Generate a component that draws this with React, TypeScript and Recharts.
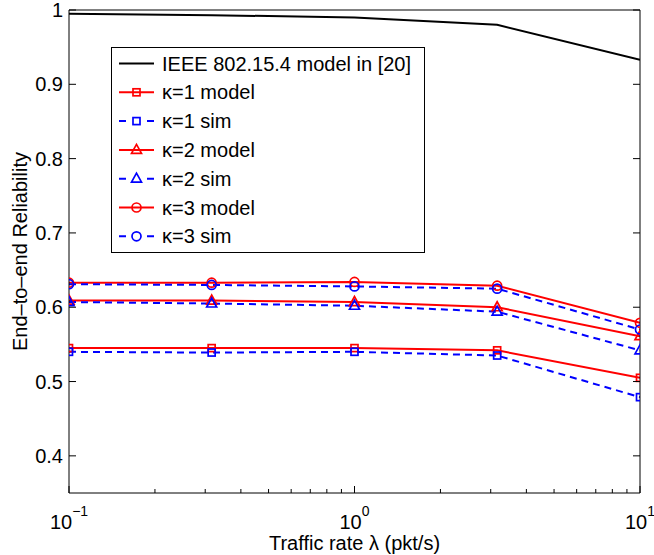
import React from 'react';
import { LineChart, Line, XAxis, YAxis, Legend } from 'recharts';

// Traffic rates (pkt/s) at which reliability was evaluated
const trafficRates = [0.1, 0.316, 1, 3.16, 10];

// End-to-end reliability per series
const ieeeModel = [0.995, 0.993, 0.99, 0.98, 0.933];
const k1Model = [0.545, 0.545, 0.545, 0.542, 0.505];
const k1Sim = [0.54, 0.539, 0.54, 0.535, 0.479];
const k2Model = [0.609, 0.609, 0.607, 0.6, 0.561];
const k2Sim = [0.607, 0.605, 0.602, 0.594, 0.542];
const k3Model = [0.633, 0.633, 0.634, 0.629, 0.579];
const k3Sim = [0.631, 0.63, 0.628, 0.625, 0.57];

// Axis ticks
const xMajorTicks = [0.1, 1, 10];
const xMajorExponents = ['−1', '0', '1'];
const xMinorTicks = [0.2, 0.3, 0.4, 0.5, 0.6, 0.7, 0.8, 0.9, 2, 3, 4, 5, 6, 7, 8, 9];
const yTicks = [0.4, 0.5, 0.6, 0.7, 0.8, 0.9, 1];
const yTickLabels = ['0.4', '0.5', '0.6', '0.7', '0.8', '0.9', '1'];

const xTitle = 'Traffic rate λ (pkt/s)';
const yTitle = 'End–to–end Reliability';

const FONT = '"Liberation Sans", Arial, Helvetica, sans-serif';
const RED = '#ff0000';
const BLUE = '#0000ff';

type MarkerKind = 'none' | 'square' | 'triangle' | 'circle';

interface SeriesDef {
  key: string;
  name: string;
  values: number[];
  color: string;
  dashed: boolean;
  marker: MarkerKind;
}

const series: SeriesDef[] = [
  { key: 'ieee', name: 'IEEE 802.15.4 model in [20]', values: ieeeModel, color: '#000000', dashed: false, marker: 'none' },
  { key: 'k1m', name: 'κ=1 model', values: k1Model, color: RED, dashed: false, marker: 'square' },
  { key: 'k1s', name: 'κ=1 sim', values: k1Sim, color: BLUE, dashed: true, marker: 'square' },
  { key: 'k2m', name: 'κ=2 model', values: k2Model, color: RED, dashed: false, marker: 'triangle' },
  { key: 'k2s', name: 'κ=2 sim', values: k2Sim, color: BLUE, dashed: true, marker: 'triangle' },
  { key: 'k3m', name: 'κ=3 model', values: k3Model, color: RED, dashed: false, marker: 'circle' },
  { key: 'k3s', name: 'κ=3 sim', values: k3Sim, color: BLUE, dashed: true, marker: 'circle' },
];

const data = trafficRates.map((rate, i) => {
  const row: Record<string, number> = { rate };
  series.forEach((s) => {
    row[s.key] = s.values[i];
  });
  return row;
});

const DASH = '7 5';
const LINE_W = 2;

function Marker({ cx, cy, kind, color }: { cx: number; cy: number; kind: MarkerKind; color: string }) {
  if (cx == null || cy == null || kind === 'none') return null;
  const common = { fill: 'none', stroke: color, strokeWidth: 1.7 };
  if (kind === 'square') {
    return <rect x={cx - 3.5} y={cy - 3.5} width={7} height={7} {...common} />;
  }
  if (kind === 'triangle') {
    return <polygon points={`${cx},${cy - 5.5} ${cx - 5},${cy + 3.5} ${cx + 5},${cy + 3.5}`} {...common} />;
  }
  return <circle cx={cx} cy={cy} r={4.5} {...common} />;
}

const MAJOR_LEN = 7;
const MINOR_LEN = 4;

const isMajorX = (v: number) => xMajorTicks.some((t) => Math.abs(t - v) < 1e-9);

function BottomTick(props: any) {
  const { x, y, payload } = props;
  const v = payload.value as number;
  const major = isMajorX(v);
  const idx = xMajorTicks.findIndex((t) => Math.abs(t - v) < 1e-9);
  return (
    <g>
      <line x1={x} y1={y} x2={x} y2={y - (major ? MAJOR_LEN : MINOR_LEN)} stroke="#000" strokeWidth={1} />
      {major && (
        <text x={x} y={y + 36} textAnchor="middle" fontFamily={FONT} fontSize={20} fill="#000">
          <tspan>10</tspan>
          <tspan dy={-13} fontSize={14}>
            {xMajorExponents[idx]}
          </tspan>
        </text>
      )}
    </g>
  );
}

function TopTick(props: any) {
  const { x, y, payload } = props;
  const major = isMajorX(payload.value);
  return <line x1={x} y1={y} x2={x} y2={y + (major ? MAJOR_LEN : MINOR_LEN)} stroke="#000" strokeWidth={1} />;
}

function LeftTick(props: any) {
  const { x, y, payload, index } = props;
  const label = yTickLabels[index] ?? String(payload.value);
  return (
    <g>
      <line x1={x} y1={y} x2={x + MAJOR_LEN} y2={y} stroke="#000" strokeWidth={1} />
      <text x={x - 6} y={y} dy="0.35em" textAnchor="end" fontFamily={FONT} fontSize={20} fill="#000">
        {label}
      </text>
    </g>
  );
}

function RightTick(props: any) {
  const { x, y } = props;
  return <line x1={x} y1={y} x2={x - MAJOR_LEN} y2={y} stroke="#000" strokeWidth={1} />;
}

function XTitle(props: any) {
  const vb = props.viewBox || {};
  return (
    <text x={vb.x + vb.width / 2} y={vb.y + 57} textAnchor="middle" fontFamily={FONT} fontSize={20} fill="#000">
      {xTitle}
    </text>
  );
}

function YTitle(props: any) {
  const vb = props.viewBox || {};
  const cx = 27;
  const cy = vb.y + vb.height / 2;
  return (
    <text
      x={cx}
      y={cy}
      transform={`rotate(-90 ${cx} ${cy})`}
      textAnchor="middle"
      fontFamily={FONT}
      fontSize={20}
      fill="#000"
    >
      {yTitle}
    </text>
  );
}

// Legend geometry
const LEG_W = 314;
const LEG_H = 206;
const ROW0 = 16.5;
const ROW_STEP = 28.8;

function LegendBox() {
  return (
    <svg width={LEG_W} height={LEG_H} style={{ display: 'block' }}>
      <rect x={0.5} y={0.5} width={LEG_W - 1} height={LEG_H - 1} fill="#fff" stroke="#000" strokeWidth={1} />
      {series.map((s, i) => {
        const cy = ROW0 + i * ROW_STEP;
        return (
          <g key={s.key}>
            <line
              x1={8}
              y1={cy}
              x2={43}
              y2={cy}
              stroke={s.color}
              strokeWidth={s.key === 'ieee' ? 2 : LINE_W}
              strokeDasharray={s.dashed ? '7 21 7' : undefined}
            />
            <Marker cx={25.5} cy={cy} kind={s.marker} color={s.color} />
            <text x={51} y={cy} dy="0.35em" fontFamily={FONT} fontSize={20} fill="#000">
              {s.name}
            </text>
          </g>
        );
      })}
    </svg>
  );
}

export default function App() {
  return (
    <div style={{ position: 'absolute', left: 0, top: 0, width: 654, height: 555, background: '#fff' }}>
      <LineChart width={654} height={555} data={data} margin={{ top: 0, right: 0, bottom: 0, left: 0 }}>
        <XAxis
          xAxisId="b"
          dataKey="rate"
          type="number"
          scale="log"
          domain={[0.1, 10]}
          allowDataOverflow
          ticks={[...xMajorTicks, ...xMinorTicks]}
          interval={0}
          tickLine={false}
          tickSize={0}
          tickMargin={0}
          height={62}
          axisLine={{ stroke: '#000', strokeWidth: 1 }}
          tick={(p: any) => <BottomTick {...p} />}
          label={<XTitle />}
        />
        <XAxis
          xAxisId="t"
          orientation="top"
          type="number"
          scale="log"
          domain={[0.1, 10]}
          allowDataOverflow
          ticks={[...xMajorTicks, ...xMinorTicks]}
          interval={0}
          tickLine={false}
          tickSize={0}
          tickMargin={0}
          height={10}
          axisLine={{ stroke: '#000', strokeWidth: 1 }}
          tick={(p: any) => <TopTick {...p} />}
        />
        <YAxis
          yAxisId="l"
          type="number"
          domain={[0.35, 1]}
          allowDataOverflow
          ticks={yTicks}
          interval={0}
          tickLine={false}
          tickSize={0}
          tickMargin={0}
          width={69}
          axisLine={{ stroke: '#000', strokeWidth: 1 }}
          tick={(p: any) => <LeftTick {...p} />}
          label={<YTitle />}
        />
        <YAxis
          yAxisId="r"
          orientation="right"
          type="number"
          domain={[0.35, 1]}
          allowDataOverflow
          ticks={yTicks}
          interval={0}
          tickLine={false}
          tickSize={0}
          tickMargin={0}
          width={14}
          axisLine={{ stroke: '#000', strokeWidth: 1 }}
          tick={(p: any) => <RightTick {...p} />}
        />
        {series.map((s) => (
          <Line
            key={s.key}
            xAxisId="b"
            yAxisId="l"
            type="linear"
            dataKey={s.key}
            name={s.name}
            stroke={s.color}
            strokeWidth={s.key === 'ieee' ? 2 : LINE_W}
            strokeDasharray={s.dashed ? DASH : undefined}
            isAnimationActive={false}
            dot={
              s.marker === 'none'
                ? false
                : (p: any) => <Marker key={`${s.key}-${p.index}`} cx={p.cx} cy={p.cy} kind={s.marker} color={s.color} />
            }
            activeDot={false}
          />
        ))}
        <Legend
          layout="vertical"
          align="center"
          verticalAlign="middle"
          wrapperStyle={{ position: 'absolute', left: 111, top: 47, width: LEG_W, height: LEG_H, margin: 0, padding: 0 }}
          content={() => <LegendBox />}
        />
      </LineChart>
    </div>
  );
}
